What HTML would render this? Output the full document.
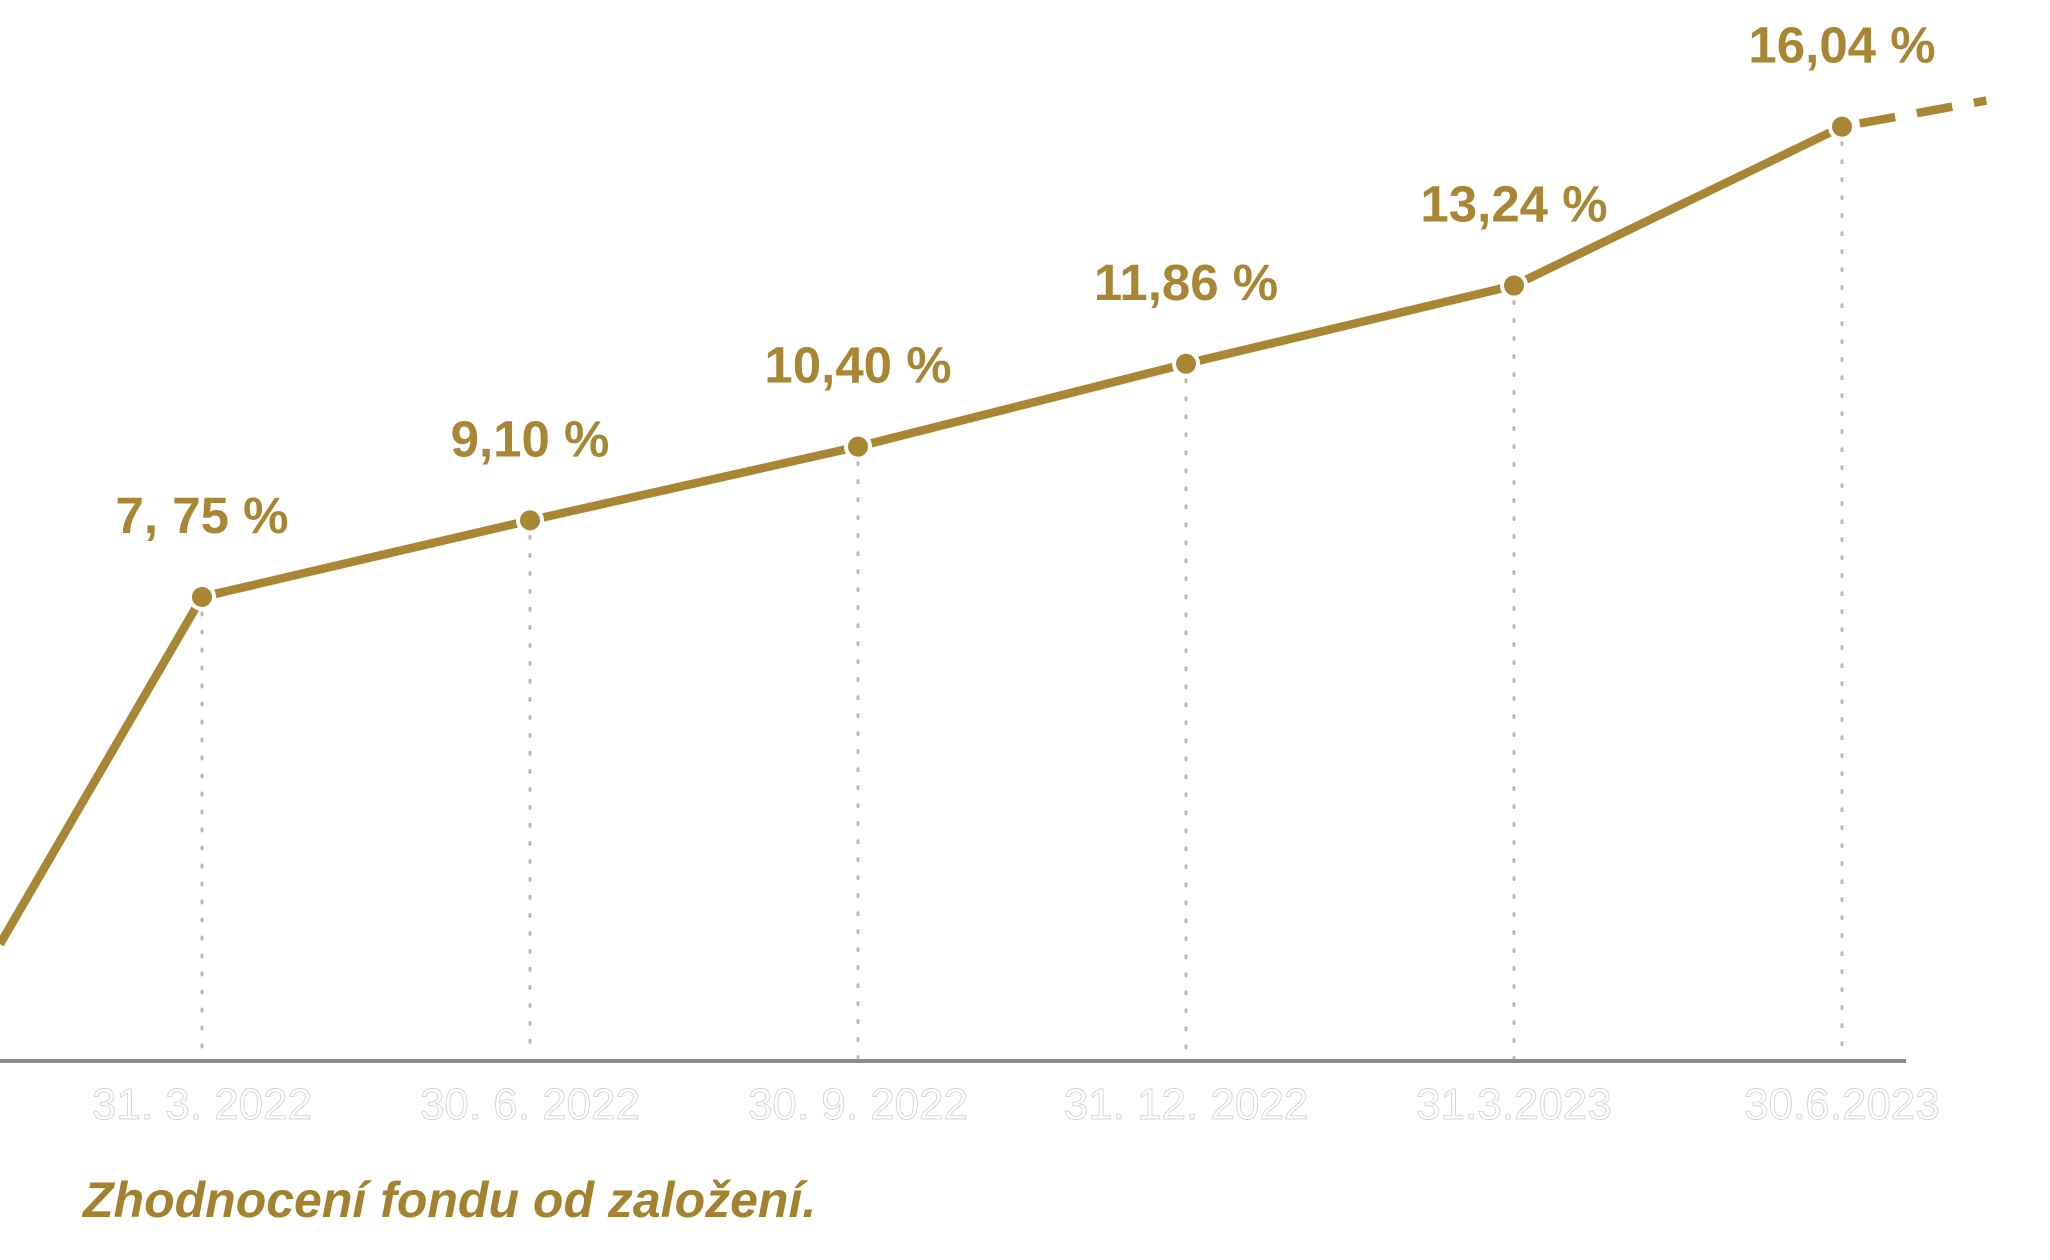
<!DOCTYPE html>
<html><head><meta charset="utf-8"><style>
html,body{margin:0;padding:0;background:#fff;}
svg{display:block;}
</style></head><body>
<svg id="chart" width="2050" height="1260" viewBox="0 0 2050 1260" xmlns="http://www.w3.org/2000/svg">
<line x1="0" y1="1061" x2="1906" y2="1061" stroke="#8a8a8a" stroke-width="4"/>
<g id="grid"></g>
<g id="line"></g>
<g id="points"></g>
<g id="labels"></g>
<g id="ticks"></g>
<text x="83" y="1217" font-family="Liberation Sans, sans-serif" font-size="50" font-weight="bold" font-style="italic" fill="#a3822f">Zhodnocení fondu od založení.</text>
</svg>
<script>
const categories = ["31. 3. 2022","30. 6. 2022","30. 9. 2022","31. 12. 2022","31.3.2023","30.6.2023"];
const values = [7.75, 9.10, 10.40, 11.86, 13.24, 16.04];
const valueLabels = ["7, 75 %","9,10 %","10,40 %","11,86 %","13,24 %","16,04 %"];
const startValue = 1.63;
const endValue = 16.5;

const NS = "http://www.w3.org/2000/svg";
const GOLD = "#a88634";
function xScale(i){ return 202 + i*328; }
function yScale(v){ return 390 - 56.73*(v - 11.398); }
function mk(tag, attrs, parent){
  const e = document.createElementNS(NS, tag);
  for (const k in attrs) e.setAttribute(k, attrs[k]);
  parent.appendChild(e); return e;
}
const grid = document.getElementById('grid');
const lineG = document.getElementById('line');
const pts = document.getElementById('points');
const labs = document.getElementById('labels');
const ticks = document.getElementById('ticks');

values.forEach((v,i)=>{
  const g = mk('line',{x1:xScale(i),y1:yScale(v)+16,x2:xScale(i),y2:1058,stroke:'#b8b8b8','stroke-width':3,'stroke-dasharray':'2 16','stroke-linecap':'round'},grid);
  
  
});

let d = `M${xScale(-0.616)},${yScale(startValue)}`;
values.forEach((v,i)=>{ d += ` L${xScale(i)},${yScale(v)}`; });
const p = mk('path',{d:d,fill:'none',stroke:GOLD,'stroke-width':8.5,'stroke-linejoin':'round'},lineG);


const last = values.length-1;
const dash = mk('line',{x1:xScale(last),y1:yScale(values[last]),x2:xScale(5.44),y2:yScale(endValue),stroke:GOLD,'stroke-width':8.5,'stroke-dasharray':'36 22','stroke-dashoffset':'-18'},lineG);



values.forEach((v,i)=>{
  const c = mk('circle',{cx:xScale(i),cy:yScale(v),r:12,fill:GOLD,stroke:'#fff','stroke-width':4},pts);
  
  
  const t = mk('text',{x:xScale(i),y:yScale(v)-64,'text-anchor':'middle','font-family':'Liberation Sans, sans-serif','font-size':51,'font-weight':'bold',fill:GOLD},labs);
  t.textContent = valueLabels[i];
  
  
  const k = mk('text',{x:xScale(i),y:1119,'text-anchor':'middle','font-family':'Liberation Sans, sans-serif','font-size':44,fill:'#fff',stroke:'#d4d4d4','stroke-width':0.9},ticks);
  k.textContent = categories[i];
  
  
});
</script>
</body></html>
